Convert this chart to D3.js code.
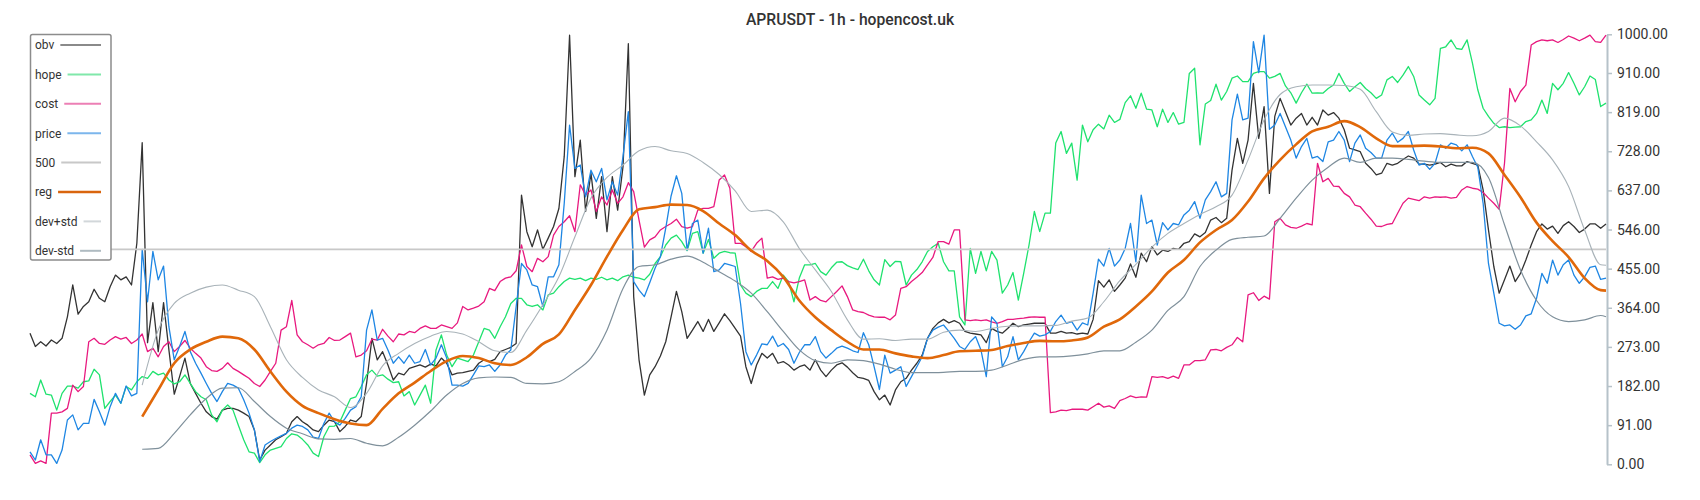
<!DOCTYPE html>
<html>
<head>
<meta charset="utf-8">
<script src="https://cdn.jsdelivr.net/npm/d3@7"></script>
<style>
  body { margin: 0; background: #fff; }
  svg { display: block; font-family: Roboto, "Noto Sans", sans-serif; }
</style>
</head>
<body>
<svg id="chart" width="1700" height="500"></svg>
<script>
// hourly series, already scaled to 0..1000
const obv = [
  305,274,285,275,289,281,293,343,417,349, 367,378,407,386,378,413,440,429,436,417,
  514,748,283,376,262,376,266,163,204,247, 188,165,142,122,111,105,126,130,130,126,
  119,111,80,10,33,45,57,64,72,
  99,111,99,91,80,76,91,103,99,76, 88,103,99,111,188,293,243,262,231,196,
  212,208,223,227,231,226,233,229,247,235, 208,212,213,216,219,235,243,239,244,262,
  267,272,281,626,541,506,545,500,526,
  553,595,716,998,669,754,588,677,572,669, 541,669,591,692,978,390,243,161,208,227,
  252,285,343,402,355,293,312,332,309,337, 309,329,350,334,316,298,227,188,231,258,
  247,258,235,239,231,219,227,231,219,
  243,219,204,219,231,236,226,213,202,200, 195,169,150,161,138,173,192,200,219,235,
  254,293,316,329,337,329,334,328,309,305, 303,301,283,316,309,305,316,328,320,324,
  326,328,328,328,305,305,309,305,
  306,303,305,303,337,427,412,429,402,417, 433,466,435,491,471,506,487,498,495,502,
  500,514,518,536,529,539,568,574,562,572, 684,758,700,754,886,758,832,630,809,851,
  820,789,805,816,789,807,789,824,812,
  818,805,778,735,731,727,700,688,673,677, 700,696,700,709,717,712,698,698,696,698,
  702,692,698,694,694,704,700,696,638,545, 460,398,429,461,425,444,475,510,541,559,
  547,554,537,555,564,553,539,547,559,559, 549,559
];

const hope = [
  165,157,196,163,161,126,165,182,182,177, 192,194,221,208,130,146,161,142,181,173,
  192,204,200,216,208,212,196,187,192,208, 188,169,157,150,115,99,126,138,126,91,
  57,29,26,4,22,33,37,41,60,
  71,68,58,45,26,18,64,88,89,99, 126,153,157,181,208,219,205,208,198,190,
  192,159,169,138,161,184,142,266,301,254, 227,247,243,239,254,285,316,312,293,320,
  343,374,386,386,371,367,371,359,394,
  398,413,425,433,430,433,427,433,430,435, 429,433,427,436,440,435,433,429,442,467,
  483,510,526,533,518,497,537,541,491,523, 479,491,495,492,491,417,398,390,402,409,
  409,425,409,440,425,378,433,464,464,
  467,448,440,457,470,471,462,457,453,477, 450,429,417,476,460,472,471,417,440,453,
  471,495,506,514,471,450,450,343,324,502, 444,495,450,495,475,398,417,446,382,444,
  510,588,541,584,584,747,774,723,
  747,661,789,750,778,791,780,812,795,802, 841,857,828,863,826,824,785,826,795,818,
  791,795,909,921,743,838,846,884,847,867, 898,903,890,890,909,913,913,898,902,909,
  880,864,840,864,884,863,864,863,874,
  882,909,886,867,878,888,874,864,851,859, 894,902,888,905,925,902,859,847,836,851,
  967,971,987,967,965,987,933,871,828,809, 793,783,785,783,784,785,797,801,816,847,
  816,886,871,886,911,886,859,878,903,895, 832,840
];

const cost = [
  22,2,8,2,119,119,122,130,184,169, 181,285,293,281,279,289,297,291,295,281,
  289,303,262,270,250,274,285,262,274,288, 270,258,247,227,218,216,223,236,223,216,
  208,200,188,181,196,216,235,312,320,
  381,301,285,278,270,278,281,295,288,289, 297,305,250,254,264,291,289,314,298,285,
  303,301,309,306,316,322,316,316,324,320, 316,329,367,359,363,368,378,409,404,425,
  433,436,450,510,460,448,479,471,483,
  533,553,564,578,541,650,626,638,588,622, 603,638,607,622,655,634,568,505,522,529,
  545,553,560,570,553,549,553,591,595,595, 599,661,673,642,514,514,506,495,514,526,
  433,436,430,433,425,422,425,429,382,
  390,381,378,390,402,415,390,359,355,353, 347,343,342,342,336,347,409,413,425,435,
  446,464,481,518,518,512,545,545,336,334, 336,334,336,331,328,332,337,337,339,340,
  342,343,342,342,120,122,126,125,
  128,128,128,126,134,142,133,136,130,148, 153,159,155,157,156,204,202,204,200,205,
  200,231,231,241,241,243,266,267,264,272, 278,295,285,394,399,381,391,384,564,572,
  557,551,549,554,560,557,700,657,665,
  647,646,630,622,603,599,584,570,554,553, 558,560,584,607,619,616,613,622,619,622,
  621,622,619,621,638,646,642,640,632,619, 607,593,700,874,843,867,882,975,983,987,
  985,987,981,988,996,991,985,991,998,983, 981,998
];

const price = [
  29,10,57,22,22,2,33,103,115,80, 95,95,151,122,91,134,165,142,182,159,
  165,500,378,495,429,461,320,243,274,309, 262,235,212,188,165,146,169,188,184,177,
  150,119,80,6,45,53,60,66,72,
  84,91,88,80,63,60,95,119,99,91, 107,126,134,157,312,359,289,293,266,235,
  250,235,254,235,239,267,231,247,278,247, 184,184,182,188,208,229,227,231,216,231,
  254,266,367,467,452,417,413,367,436,
  436,464,607,789,688,696,622,684,657,688, 615,657,626,716,820,425,405,390,422,456,
  483,549,624,671,630,498,560,568,491,549, 448,452,467,464,460,374,262,231,254,280,
  278,298,274,281,267,235,260,278,278,
  297,262,247,258,270,275,270,264,260,306, 278,227,174,254,212,219,227,181,204,227,
  250,293,312,319,324,309,293,274,267,285, 297,266,204,343,328,227,250,297,243,262,
  285,305,298,301,309,332,347,328,
  332,312,329,324,398,477,461,502,461,475, 502,560,471,626,560,568,510,562,545,560,
  557,580,591,611,572,615,634,657,622,630, 801,861,801,805,983,911,998,779,789,816,
  785,754,712,739,758,712,716,704,750,
  754,774,754,704,747,766,735,725,712,712, 754,770,749,758,774,731,696,700,686,700,
  743,735,747,743,729,743,716,691,607,467, 398,328,322,324,314,324,345,350,386,444,
  421,475,440,464,475,440,421,436,458,461, 430,433
];

// regression band, sampled every third hour
const bandIdx = [
  21,24,27,30,33,36,39,42,45,48, 51,54,57,60,63,66,69,72,75,78,81,84,87,90,93,96,
  99,102,105,108,111,114,117,120,123,126,129,132,135,138,141,144,
  147,150,153,156,159,162,165,168,171,174,177,180,183,186,189,192,
  195,198,201,204,207,210,213,216,219,222,225,228,231,234,237,240,243,
  246,249,252,255,258,261,264,267,270,273,276,279,282,285,288,291,294,295
];
const reg = [
  111,173,235,267,285,297,293,267,216,169,
  136,119,105,95,91,129,165,190,217,240,252,247,235,231,249,280,
  302,359,417,483,545,593,598,604,603,589,560,533,497,473,436,381,
  342,312,285,267,267,258,251,247,254,263,264,266,275,282,287,286,
  288,295,320,337,367,402,446,475,516,545,568,611,665,708,744,774,785,
  798,784,758,740,740,741,739,735,736,723,673,621,562,519,482,433,405,404
];
const devUp = [
  184,312,374,398,412,417,405,390,320,243,
  202,173,157,132,165,229,258,281,298,309,303,285,264,260,312,371,
  436,529,619,667,696,729,739,729,723,702,674,636,588,591,564,502,
  452,402,336,291,292,288,291,291,307,312,309,316,321,322,322,323,
  333,340,378,427,465,505,537,560,581,599,626,708,801,860,878,882,882,
  881,872,820,773,765,768,769,766,764,774,805,787,750,708,646,545,464,463
];
const devDn = [
  35,37,72,115,153,177,178,146,111,84,
  71,59,58,60,49,43,63,91,124,161,188,201,203,202,188,187,
  192,216,247,312,409,460,464,477,484,470,448,426,398,355,309,266,
  241,235,243,241,233,221,213,213,214,216,216,219,231,244,250,250,
  252,257,264,264,284,312,358,390,460,498,523,528,531,572,619,661,691,
  712,702,712,712,709,705,702,702,702,667,557,452,381,343,332,336,346,343
];

const level = 500;
const yTicks = [0, 91, 182, 273, 364, 455, 546, 637, 728, 819, 910, 1000];
const legendNames = ["obv", "hope", "cost", "price", "500", "reg", "dev+std", "dev-std"];

const svg = d3.select("#chart");

const x = d3.scaleLinear().domain([0, obv.length - 1]).range([30, 1606]);
const y = d3.scaleLinear().domain([0, 1000]).range([464.3, 34.3]);

// title
svg.append("text")
  .attr("x", 850).attr("y", 25)
  .attr("text-anchor", "middle")
  .style("font-size", "15.7px").style("font-weight", 500)
  .style("fill", "#333")
  .text("APRUSDT - 1h - hopencost.uk");

// right axis
const axis = svg.append("g")
  .attr("transform", "translate(1607,0)")
  .call(d3.axisRight(y).tickValues(yTicks).tickFormat(d3.format(".2f"))
    .tickSize(5).tickSizeOuter(0).tickPadding(5));
axis.select(".domain").style("stroke", "#b6c2c9").style("stroke-width", 2);
axis.selectAll(".tick line").style("stroke", "#b6c2c9").style("stroke-width", 1.5);
axis.selectAll(".tick text")
  .style("font-size", "14px").style("font-family", "Roboto, sans-serif")
  .style("fill", "#333");

const line = d3.line().x((d, i) => x(i)).y(d => y(d));
const bandLine = d3.line().curve(d3.curveMonotoneX)
  .x((d, i) => x(bandIdx[i])).y(d => y(d));

function draw(data, gen, color, width) {
  svg.append("path")
    .datum(data)
    .attr("d", gen)
    .style("fill", "none")
    .style("stroke", color)
    .style("stroke-width", width)
    .style("stroke-linejoin", "round");
}

draw(obv, line, "#333333", 1.3);
draw(hope, line, "#1fe26e", 1.3);
draw(cost, line, "#e8197f", 1.3);
draw(price, line, "#1e86e3", 1.3);

// 500 level
svg.append("line")
  .attr("x1", x(0)).attr("x2", x(obv.length - 1))
  .attr("y1", y(level)).attr("y2", y(level))
  .style("stroke", "#c8c8c8").style("stroke-width", 1.8);

draw(reg, bandLine, "#e0680a", 2.6);
draw(devUp, bandLine, "#a9b3b9", 1.1);
draw(devDn, bandLine, "#7f909b", 1.2);

// legend
const legendColors = ["#8a8a8a", "#80e8aa", "#ec7fb5", "#7cb6ec", "#c8c8c8", "#d9650d", "#d2d7da", "#afbbc1"];
const legendWidths = [2, 2, 2, 2, 2, 2.6, 2, 2];
const lg = svg.append("g");
lg.append("rect")
  .attr("x", 30.5).attr("y", 34.5)
  .attr("width", 80.5).attr("height", 225.5)
  .attr("rx", 2)
  .style("fill", "#fff")
  .style("stroke", "#8c8c8c")
  .style("stroke-width", 1.5);

legendNames.forEach(function(name, i) {
  const cy = 45 + i * 29.4;
  const t = lg.append("text")
    .attr("x", 35).attr("y", cy + 4.3)
    .style("font-size", "12px")
    .style("fill", "#333")
    .text(name);
  const w = t.node().getComputedTextLength();
  lg.append("line")
    .attr("x1", 35 + w + 6).attr("x2", 101)
    .attr("y1", cy).attr("y2", cy)
    .style("stroke", legendColors[i])
    .style("stroke-width", legendWidths[i]);
});
</script>
</body>
</html>
